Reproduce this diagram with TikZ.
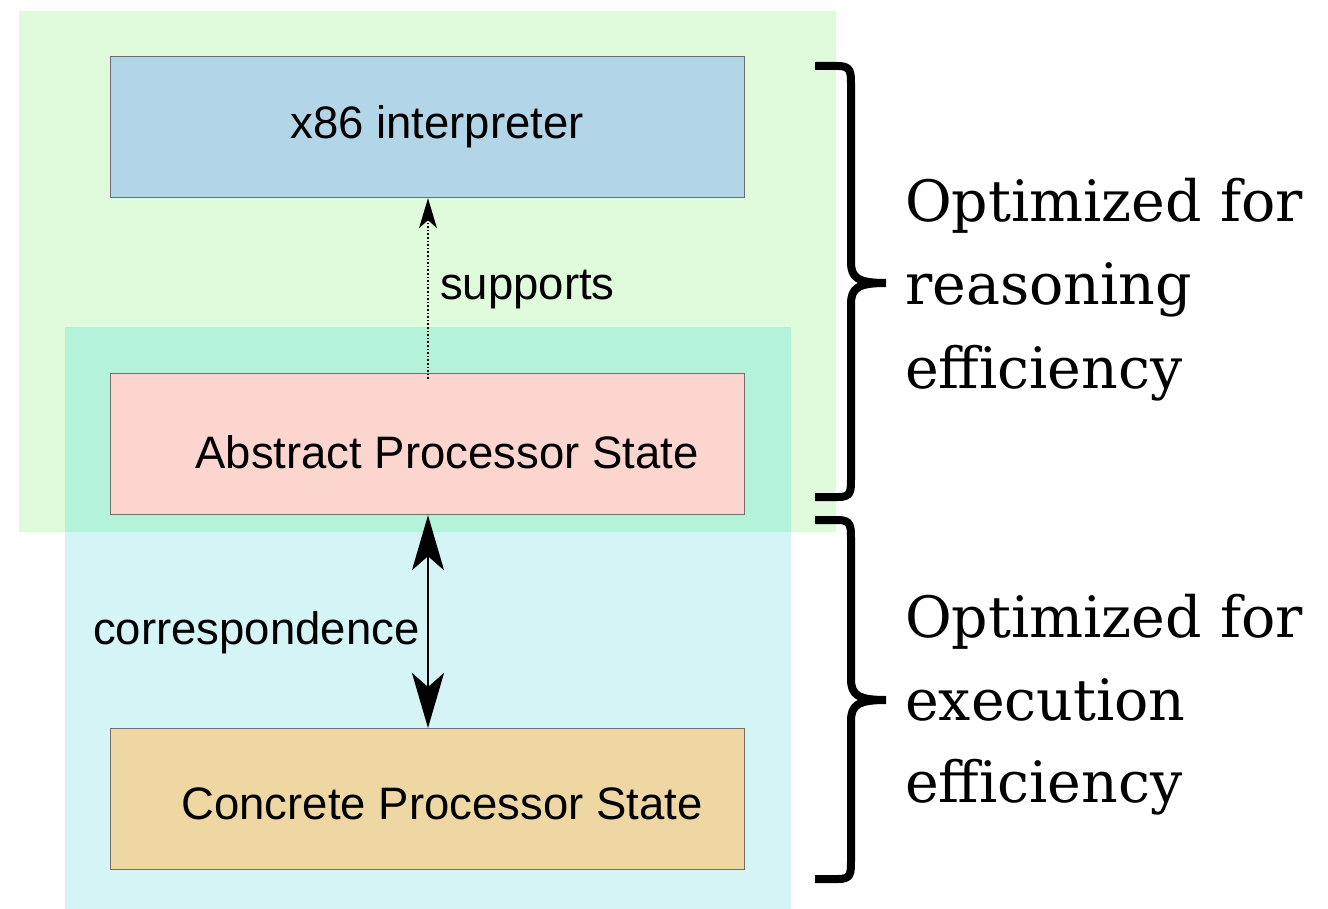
\documentclass[tikz,border=0pt]{standalone}
\usepackage{fontspec}
\setmainfont{Liberation Sans}
\newfontfamily\bigserif{DejaVu Serif}
\usetikzlibrary{arrows.meta}
\definecolor{regiongreen}{RGB}{223,251,220}
\definecolor{regioncyan}{RGB}{212,244,245}
\definecolor{regionmix}{RGB}{181,242,218}
\definecolor{boxblue}{RGB}{178,213,232}
\definecolor{boxpink}{RGB}{252,213,207}
\definecolor{boxtan}{RGB}{238,215,162}
\definecolor{boxline}{RGB}{110,110,110}
\tikzset{
  statebox/.style={draw=boxline, line width=1.2pt, minimum width=634pt, minimum height=141pt, inner sep=0pt},
  sanslabel/.style={font=\fontsize{45.5}{54}\selectfont, inner sep=0pt, anchor=base},
  seriflabel/.style={font=\bigserif\fontsize{57}{66}\selectfont, inner sep=0pt, anchor=base west},
  bracestyle/.style={line width=8pt, line join=round, line cap=butt},
}
\begin{document}
\begin{tikzpicture}[x=1pt,y=-1pt]
\useasboundingbox (0,0) rectangle (1328,909);
\fill[white] (0,0) rectangle (1328,909);
% regions
\fill[regiongreen] (19,11) rectangle (836,532);
\fill[regioncyan] (65,327) rectangle (791,909);
\fill[regionmix] (65,327) rectangle (791,532);
% boxes
\node[statebox, fill=boxblue, anchor=north west] (interp) at (110,56) {};
\node[statebox, fill=boxpink, anchor=north west] (abs) at (110,373) {};
\node[statebox, fill=boxtan, anchor=north west] (conc) at (110,728) {};
\node[sanslabel] (interpT) at (437,139) {x86 interpreter};
\node[sanslabel] (absT) at (447,468) {Abstract Processor State};
\node[sanslabel] (concT) at (442,819) {Concrete Processor State};
% arrows
\coordinate (supStart) at (428,379);
\draw[dotted, line width=1.6pt, -{Stealth[length=30pt,width=18pt,inset=8pt,line width=0pt]}] (supStart) -- (interp.south -| supStart);
\node[sanslabel, anchor=base west] (supT) at (440,300) {supports};
\draw[line width=2.8pt, {Stealth[length=55pt,width=32pt,inset=14pt]}-{Stealth[length=55pt,width=32pt,inset=14pt]}] (abs.south -| supStart) -- (conc.north -| supStart);
\node[sanslabel, anchor=base west] (corrT) at (93,644) {correspondence};
% braces
\coordinate (b1top) at (815,66);
\coordinate (b1tip) at (886,283);
\coordinate (b1bot) at (815,497);
\coordinate (b2top) at (815,520);
\coordinate (b2tip) at (886,700);
\coordinate (b2bot) at (815,879);
\draw[bracestyle] (b1top) -- (838,66) .. controls (851,66) and (851,72) .. (851,85)
  -- (851,262) .. controls (851,278) and (858,283) .. (b1tip)
  (b1tip) .. controls (858,283) and (851,288) .. (851,304)
  -- (851,478) .. controls (851,492) and (851,497) .. (838,497) -- (b1bot);
\draw[bracestyle] (b2top) -- (838,520) .. controls (851,520) and (851,526) .. (851,539)
  -- (851,679) .. controls (851,695) and (858,700) .. (b2tip)
  (b2tip) .. controls (858,700) and (851,705) .. (851,721)
  -- (851,860) .. controls (851,874) and (851,879) .. (838,879) -- (b2bot);
% right texts
\node[seriflabel] (r1) at (905,222) {Optimized for};
\node[seriflabel] (r2) at (905,305) {reasoning};
\node[seriflabel] (r3) at (905,388) {efficiency};
\node[seriflabel] (e1) at (905,637) {Optimized for};
\node[seriflabel] (e2) at (905,720) {execution};
\node[seriflabel] (e3) at (905,802) {efficiency};
\end{tikzpicture}
\end{document}
